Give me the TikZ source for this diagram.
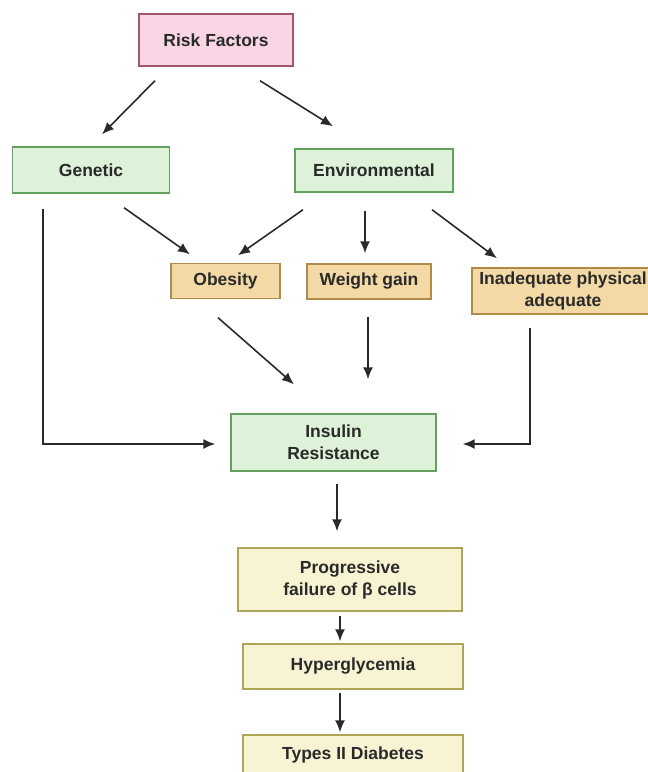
\documentclass[tikz,border=0pt]{standalone}
\usepackage{fontspec}
\setmainfont{Liberation Sans}
\usetikzlibrary{arrows.meta,calc}

\definecolor{riskfill}{HTML}{F9D6E6}
\definecolor{riskdraw}{HTML}{A0566E}
\definecolor{greenfill}{HTML}{DDF2D8}
\definecolor{greendraw}{HTML}{64A060}
\definecolor{tanfill}{HTML}{F2D9A6}
\definecolor{tandraw}{HTML}{B08A48}
\definecolor{creamfill}{HTML}{F8F3D2}
\definecolor{creamdraw}{HTML}{B0A458}
\definecolor{inkgray}{HTML}{2A2A2A}

\begin{document}
\begin{tikzpicture}[x=1pt,y=-1pt,line width=1.4pt,
    base node/.style={rectangle,draw,text=inkgray,align=center,inner sep=2pt,
      font=\fontsize{17.5}{22}\selectfont\bfseries},
    risk node/.style={base node,fill=riskfill,draw=riskdraw},
    green node/.style={base node,fill=greenfill,draw=greendraw},
    tan node/.style={base node,fill=tanfill,draw=tandraw},
    cream node/.style={base node,fill=creamfill,draw=creamdraw},
    arr/.style={-{Latex[length=12pt,width=10pt]},draw=inkgray,line width=1.6pt}]
  \useasboundingbox (0,0) rectangle (648,772);

  \node[risk node,minimum width=154pt,minimum height=52pt] (risk) at (216,40) {Risk Factors};
  \node[green node,minimum width=157pt,minimum height=46pt] (genetic) at (91,170) {Genetic};
  \node[green node,minimum width=158pt,minimum height=43pt] (env) at (374,170.5) {Environmental};
  \node[tan node,minimum width=109pt,minimum height=35pt] (obesity) at (225.5,281) {Obesity};
  \node[tan node,minimum width=124pt,minimum height=35pt] (weight) at (369,281.5) {Weight gain};
  \node[tan node,minimum width=182pt,minimum height=46pt] (inadequate) at (563,291) {Inadequate physical\\adequate};
  \node[green node,minimum width=205pt,minimum height=57pt] (insulin) at (333.5,442.5) {Insulin\\Resistance};
  \node[cream node,minimum width=224pt,minimum height=63pt] (progressive) at (350,579.5) {Progressive\\failure of β cells};
  \node[cream node,minimum width=220pt,minimum height=45pt] (hyper) at (353,666.5) {Hyperglycemia};
  \node[cream node,minimum width=220pt,minimum height=40pt] (types) at (353,755) {Types II Diabetes};

  % risk factors split
  \draw[arr] ($(risk.south)+(-61,14)$) -- ($(genetic.north)+(11,-12)$);
  \draw[arr] ($(risk.south)+(44,14)$) -- ($(env.north)+(-41,-22)$);

  % causes
  \draw[arr] ($(genetic.south)+(33,14)$) -- ($(obesity.north)+(-35.5,-8.5)$);
  \draw[arr] ($(env.south)+(-71,17)$) -- ($(obesity.north)+(12.5,-7.5)$);
  \draw[arr] ($(env.south)+(-9,18)$) -- ($(weight.north)+(-4,-10)$);
  \draw[arr] ($(env.south)+(58,17)$) -- ($(inadequate.north)+(-66,-9)$);

  % into insulin resistance
  \draw[arr] ($(genetic.south)+(-48,15)$) |- ($(insulin.west)+(-15,1.5)$);
  \draw[arr] ($(obesity.south)+(-7.5,18.5)$) -- ($(insulin.north)+(-39.5,-29)$);
  \draw[arr] ($(weight.south)+(-1,17)$) -- ($(insulin.north)+(34.5,-34)$);
  \draw[arr] ($(inadequate.south)+(-33,13)$) |- ($(insulin.east)+(26,1.5)$);

  % chain
  \draw[arr] ($(insulin.south)+(3.5,12)$) -- ($(progressive.north)+(-13,-16)$);
  \draw[arr] ($(progressive.south)+(-10,4)$) -- ($(hyper.north)+(-13,-2)$);
  \draw[arr] ($(hyper.south)+(-13,3)$) -- ($(types.north)+(-13,-2)$);
\end{tikzpicture}
\end{document}
